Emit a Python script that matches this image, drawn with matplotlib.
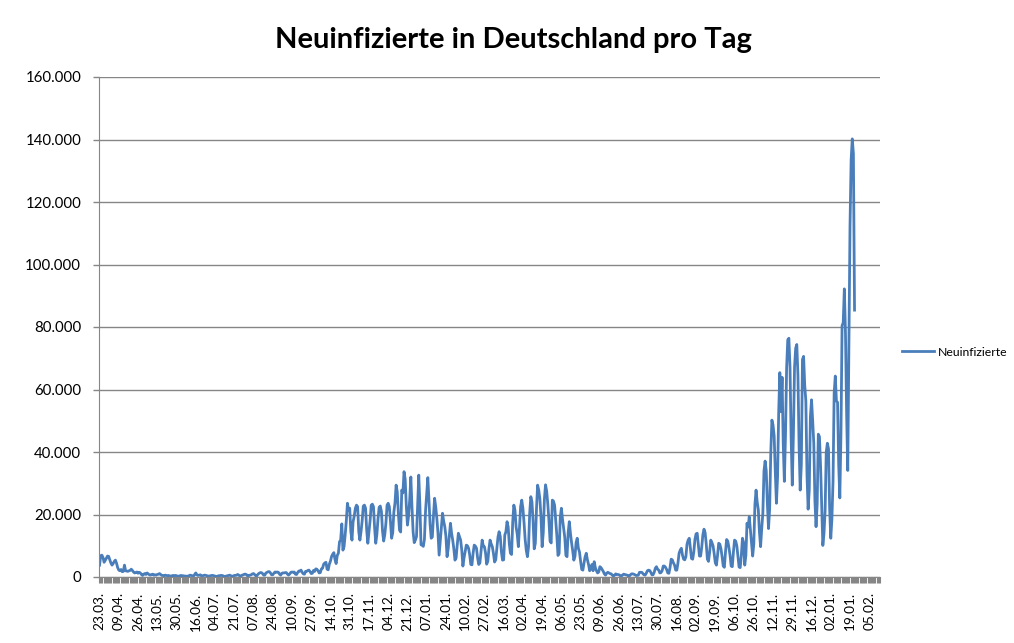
import numpy as np
import matplotlib
matplotlib.use('Agg')
import matplotlib.pyplot as plt
from matplotlib.ticker import FuncFormatter, MultipleLocator

# daily new infections in thousands, one line per week (Mon..Sun)
cases_2020_spring = [
    3.8, 6.8, 7.0, 6.3, 4.7, 5.3, 6.0,
    6.7, 6.6, 5.6, 4.5, 3.8, 4.3, 5.0,
    5.4, 4.4, 3.0, 2.2, 2.0, 2.4, 1.7,
    1.8, 3.8, 2.0, 1.9, 1.8, 2.0, 2.1,
    2.5, 2.1, 1.6, 1.3, 1.4, 1.6, 1.2,
    1.5, 1.3, 0.8, 0.5, 0.9, 1.1, 0.8,
    1.3, 1.0, 0.7, 0.6, 0.8, 0.9, 0.6,
    0.7, 0.6, 0.8, 0.9, 1.1, 0.8, 0.5,
    0.5, 0.4, 0.6, 0.5, 0.4, 0.5, 0.3,
    0.3, 0.4, 0.5, 0.4, 0.5, 0.4, 0.3,
    0.2, 0.4, 0.5, 0.4, 0.4, 0.3, 0.3,
    0.2, 0.3, 0.4, 0.6, 0.5, 0.4, 0.3,
    0.8, 1.3, 0.7, 0.5, 0.6, 0.7, 0.4,
    0.4, 0.5, 0.6, 0.5, 0.4, 0.3,          # one day missing in the source
]

cases_2020_autumn = [
    0.3, 0.4, 0.5, 0.5, 0.4, 0.3, 0.2,
    0.2, 0.4, 0.4, 0.5, 0.5, 0.4, 0.2,
    0.2, 0.3, 0.4, 0.5, 0.6, 0.4, 0.2,
    0.3, 0.5, 0.5, 0.6, 0.8, 0.6, 0.3,
    0.3, 0.6, 0.7, 0.9, 0.9, 0.7, 0.2,
    0.5, 0.6, 0.7, 1.0, 1.1, 0.8, 0.4,
    0.4, 0.9, 1.2, 1.4, 1.4, 1.1, 0.6,
    0.6, 1.3, 1.5, 1.7, 1.7, 1.3, 0.7,
    0.7, 1.2, 1.6, 1.5, 1.6, 1.5, 0.9,
    0.6, 1.2, 1.3, 1.3, 1.4, 1.4, 0.9,
    0.6, 1.0, 1.5, 1.6, 1.5, 1.6, 0.9,
    0.8, 1.4, 1.9, 1.9, 2.2, 1.5, 1.0,
    0.9, 1.8, 1.8, 2.1, 2.2, 1.7, 1.1,
    1.2, 2.1, 1.8, 2.6, 2.5, 2.0, 1.3,
    1.4, 2.6, 2.8, 4.1, 4.5, 4.7, 2.5,
    2.3, 4.1, 5.1, 6.6, 7.3, 7.8, 5.6,
    4.3, 6.9, 7.6, 11.3, 11.8, 17.0, 8.6,
    9.7, 13.5, 18.0, 23.6, 21.4, 22.0, 14.5,
    11.8, 17.7, 19.5, 22.0, 23.0, 22.5, 14.5,
    11.8, 14.5, 18.0, 22.7, 23.0, 22.0, 15.0,
    10.8, 14.4, 18.0, 23.0, 23.3, 22.5, 15.7,
    10.8, 13.6, 18.6, 22.3, 22.7, 21.0, 14.6,
    11.5, 13.6, 17.3, 23.0, 23.6, 22.5, 17.8,
    12.4, 14.1, 20.8, 23.7, 29.4, 27.3, 20.2,
    15.0, 14.4, 27.8, 26.9, 33.7, 31.3, 22.8,
    16.6, 19.5, 24.7, 32.0, 22.5, 14.5, 11.0,
    11.8, 12.9, 22.5, 32.6, 22.9, 10.3, 10.2,
]

cases_2021_spring = [
    9.8, 12.0, 21.2, 26.4, 31.8, 24.7, 16.9,
    12.4, 12.8, 19.6, 25.2, 22.4, 18.7, 13.9,
    7.0, 11.4, 15.9, 20.4, 17.9, 16.1, 13.0,
    6.5, 9.0, 13.2, 17.2, 14.0, 11.8, 9.0,
    5.4, 6.1, 10.3, 14.0, 12.9, 11.8, 8.6,
    3.5, 6.1, 8.1, 10.2, 10.0, 9.2, 7.1,
    4.0, 3.9, 7.6, 10.2, 9.9, 9.2, 6.1,
    4.0, 4.5, 8.0, 11.8, 10.0, 9.7, 7.7,
    4.1, 5.0, 9.0, 11.8, 10.6, 9.7, 7.5,
    4.8, 5.5, 9.1, 12.8, 14.5, 13.0, 8.1,
    5.4, 5.5, 13.4, 14.5, 17.7, 16.0, 10.6,
    7.6, 7.2, 17.5, 23.0, 21.4, 16.0, 13.7,
    9.7, 15.8, 22.6, 24.6, 22.0, 17.5, 12.0,
    8.5, 6.5, 9.7, 20.4, 25.7, 24.1, 17.9,
    9.0, 10.8, 21.7, 29.4, 27.8, 25.0, 19.2,
    9.7, 14.2, 24.9, 29.5, 27.5, 23.4, 18.1,
    11.5, 10.9, 24.6, 24.3, 23.0, 18.1, 13.2,
    6.9, 7.5, 19.0, 22.0, 18.5, 15.7, 12.7,
    6.9, 6.5, 14.2, 17.7, 14.0, 11.0, 8.4,
    5.4, 6.6, 11.0, 12.4, 9.2, 8.0, 5.0,
    2.4, 2.2, 4.5, 6.5, 7.6, 5.5, 4.0,
    2.0, 2.8, 4.0, 2.0, 4.9, 3.0, 2.0,
    1.3, 1.6, 3.3, 3.0, 2.4, 1.8, 1.0,
    0.6, 1.2, 1.5, 1.3, 1.1, 1.0, 0.6,
    0.3, 0.6, 1.0, 0.8, 0.8, 0.7, 0.4,
    0.3, 0.6, 0.9, 0.8, 0.7, 0.6, 0.4,
]

cases_2021_autumn = [
    0.3, 0.7, 1.0, 1.0, 0.9, 0.7, 0.5,
    0.5, 0.6, 1.5, 1.5, 1.5, 1.1, 0.7,
    0.6, 1.2, 2.0, 2.2, 2.1, 1.5, 0.7,
    0.7, 1.5, 2.8, 3.3, 2.5, 2.2, 1.3,
    1.4, 2.0, 3.5, 3.5, 3.1, 2.4, 1.3,
    1.2, 3.0, 5.7, 5.5, 4.5, 3.8, 2.2,
    2.2, 4.5, 7.6, 8.6, 9.2, 7.0, 5.7,
    5.5, 6.5, 10.5, 11.8, 12.4, 9.0, 5.9,
    5.7, 8.0, 12.0, 13.8, 14.0, 10.5, 6.7,
    6.7, 9.5, 13.5, 15.3, 14.2, 10.5, 5.7,
    5.0, 8.0, 11.8, 11.0, 10.0, 7.5, 4.5,
    3.8, 7.0, 10.8, 10.5, 9.0, 6.5, 3.5,
    3.1, 8.0, 12.0, 11.5, 9.5, 7.0, 3.5,
    3.3, 8.0, 11.8, 11.5, 10.0, 6.5, 3.2,
    3.0, 7.0, 12.4, 11.0,                   # three days missing in the source
    3.8, 6.9, 17.2, 16.0, 19.3, 15.0, 10.5,
    6.7, 10.5, 23.2, 27.8, 24.0, 21.5, 14.3,
    9.7, 15.5, 20.4, 33.9, 37.1, 34.0, 23.5,
    15.5, 21.8, 39.7, 50.2, 48.6, 45.1, 33.5,
    23.6, 32.0, 52.8, 65.4, 52.9, 63.9, 42.7,
    30.6, 45.3, 66.9, 75.9, 76.4, 67.1, 44.4,
    29.4, 45.8, 67.2, 73.2, 74.4, 64.5, 42.1,
    27.8, 36.1, 69.6, 70.6, 61.3, 56.3, 32.6,
    21.7, 27.8, 51.3, 56.7, 50.2, 42.8, 24.4,
    16.1, 23.4, 45.7, 44.9, 35.4, 22.2, 10.1,
    13.9, 21.1, 40.0, 42.8, 41.0, 22.0, 12.4,
    18.5, 30.6, 58.9, 64.3, 56.3, 55.9, 36.0,
    25.3, 45.7, 80.4, 81.4, 92.2, 78.0, 52.5,
]

cases_2022 = [34.1, 74.4, 112.3, 133.5, 140.2, 135.5, 85.4]

date_labels = ['23.03.', '09.04.', '26.04.', '13.05.', '30.05.', '16.06.', '04.07.',
               '21.07.', '07.08.', '24.08.', '10.09.', '27.09.', '14.10.', '31.10.',
               '17.11.', '04.12.', '21.12.', '07.01.', '24.01.', '10.02.', '27.02.',
               '16.03.', '02.04.', '19.04.', '06.05.', '23.05.', '09.06.', '26.06.',
               '13.07.', '30.07.', '16.08.', '02.09.', '19.09.', '06.10.', '26.10.',
               '12.11.', '29.11.', '16.12.', '02.01.', '19.01.', '05.02.']
label_step = 17
n_categories = 690

cases = np.concatenate([cases_2020_spring, cases_2020_autumn, cases_2021_spring,
                        cases_2021_autumn, cases_2022]) * 1000
days = np.arange(len(cases))

plt.rcParams['font.family'] = ['Lato', 'DejaVu Sans']

W, H = 1014, 643
fig = plt.figure(figsize=(W / 100, H / 100), dpi=100)
ax = fig.add_axes([99 / W, 1 - 577 / H, (880 - 99) / W, 500 / H])

ax.plot(days, cases, color='#4A7EBB', lw=2.0, label='Neuinfizierte')

ax.set_xlim(-0.5, n_categories - 0.5)
ax.set_ylim(0, 160000)
ax.yaxis.set_major_locator(MultipleLocator(20000))
ax.yaxis.set_major_formatter(FuncFormatter(lambda v, p: f'{int(v):,}'.replace(',', '.')))
ax.grid(axis='y', color='#868686', lw=1)
ax.set_axisbelow(True)

ax.set_xticks(np.arange(0, len(date_labels) * label_step, label_step))
ax.set_xticklabels(date_labels, rotation=90, fontsize=9.8)
ax.set_xticks(np.arange(n_categories + 1) - 0.5, minor=True)
ax.tick_params(axis='x', which='major', length=0, pad=11)
ax.tick_params(axis='x', which='minor', length=4.5, width=0.8, color='#868686')
ax.tick_params(axis='y', length=4.3, width=1, color='#868686', pad=8.5, labelsize=10.8)

for side in ['top', 'right']:
    ax.spines[side].set_visible(False)
for side in ['left', 'bottom']:
    ax.spines[side].set_color('#868686')

fig.text(513 / W, 1 - 40 / H, 'Neuinfizierte in Deutschland pro Tag',
         ha='center', va='center', fontsize=21, fontweight='bold')

ax.legend(loc='center left', bbox_to_anchor=(902 / W, 1 - 352 / H),
          bbox_transform=fig.transFigure, frameon=False, fontsize=8.8,
          handlelength=2.6, handletextpad=0.3, borderpad=0, borderaxespad=0)

fig.savefig('out.png', dpi=100)
